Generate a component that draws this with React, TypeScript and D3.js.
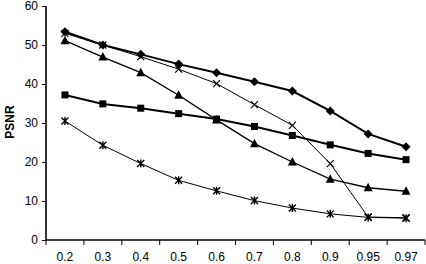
import { useEffect, useRef } from 'react';
import * as d3 from 'd3';

// 압축률 카테고리
const categories = ['0.2', '0.3', '0.4', '0.5', '0.6', '0.7', '0.8', '0.9', '0.95', '0.97'];
const yTicks = [0, 10, 20, 30, 40, 50, 60];

const diamondSeries = [53.4, 50, 47.6, 45.1, 42.9, 40.6, 38.2, 33.1, 27.2, 23.9];
const crossSeries = [53, 50, 47, 43.8, 40.1, 34.7, 29.4, 19.6, 5.9, 5.7];
const triangleSeries = [51.1, 46.9, 42.9, 37.1, 30.8, 24.7, 20, 15.6, 13.4, 12.5];
const squareSeries = [37.2, 34.9, 33.8, 32.4, 31, 29.1, 26.8, 24.4, 22.2, 20.6];
const starSeries = [30.5, 24.3, 19.6, 15.3, 12.6, 10.1, 8.2, 6.7, 5.8, 5.6];

type Marker = 'diamond' | 'cross' | 'triangle' | 'square' | 'star';

const series: { values: number[]; marker: Marker; width: number }[] = [
  { values: starSeries, marker: 'star', width: 1 },
  { values: squareSeries, marker: 'square', width: 2 },
  { values: triangleSeries, marker: 'triangle', width: 1.3 },
  { values: crossSeries, marker: 'cross', width: 1 },
  { values: diamondSeries, marker: 'diamond', width: 2 },
];

const W = 426;
const H = 264;

export default function App() {
  const svgRef = useRef<SVGSVGElement>(null);

  useEffect(() => {
    if (!svgRef.current) return;
    const svg = d3.select(svgRef.current);
    svg.selectAll('*').remove();

    const x = d3.scaleBand<string>().domain(categories).range([46, 425]).padding(0);
    const y = d3.scaleLinear().domain([0, 60]).range([240, 6]);
    const cx = (i: number) => (x(categories[i]) ?? 0) + x.bandwidth() / 2;

    // ── 선 ──
    const line = d3.line<number>()
      .x((_, i) => cx(i))
      .y((d) => y(d));

    series.forEach((s) => {
      svg.append('path')
        .datum(s.values)
        .attr('d', line)
        .attr('fill', 'none')
        .attr('stroke', '#000')
        .attr('stroke-width', s.width);
    });

    // ── 마커 ──
    series.forEach((s) => {
      const g = svg.append('g');
      s.values.forEach((v, i) => {
        const px = cx(i);
        const py = y(v);
        if (s.marker === 'diamond') {
          g.append('path').attr('d', `M${px},${py - 4.5}L${px + 4.5},${py}L${px},${py + 4.5}L${px - 4.5},${py}Z`).attr('fill', '#000');
        } else if (s.marker === 'square') {
          g.append('rect').attr('x', px - 3.5).attr('y', py - 3.5).attr('width', 7).attr('height', 7).attr('fill', '#000');
        } else if (s.marker === 'triangle') {
          g.append('path').attr('d', `M${px},${py - 5}L${px + 4.5},${py + 3.5}L${px - 4.5},${py + 3.5}Z`).attr('fill', '#000');
        } else if (s.marker === 'cross') {
          g.append('path').attr('d', `M${px - 3.5},${py - 3.5}L${px + 3.5},${py + 3.5}M${px + 3.5},${py - 3.5}L${px - 3.5},${py + 3.5}`)
            .attr('stroke', '#000').attr('stroke-width', 1.2);
        } else {
          g.append('path').attr('d', `M${px - 3.5},${py - 3.5}L${px + 3.5},${py + 3.5}M${px + 3.5},${py - 3.5}L${px - 3.5},${py + 3.5}M${px},${py - 4}L${px},${py + 4}`)
            .attr('stroke', '#000').attr('stroke-width', 1.4);
        }
      });
    });

    // ── 축 ──
    const yAxis = svg.append('g')
      .attr('transform', 'translate(46,0)')
      .call(d3.axisLeft(y).tickValues(yTicks).tickSize(4).tickPadding(4));

    const xAxis = svg.append('g')
      .attr('transform', 'translate(0,240)')
      .call(d3.axisBottom(x).tickSize(0).tickPadding(12));

    // 구간 경계 눈금 (카테고리 사이)
    xAxis.selectAll('.tick').each(function () {
      d3.select(this).append('line')
        .attr('x1', x.bandwidth() / 2).attr('x2', x.bandwidth() / 2)
        .attr('y1', 0).attr('y2', 5)
        .attr('stroke', '#000');
    });
    xAxis.append('line').attr('x1', 46).attr('x2', 46).attr('y1', 0).attr('y2', 5).attr('stroke', '#000');

    svg.selectAll('.domain').attr('stroke', '#000').attr('stroke-width', 1.6);
    yAxis.select('.domain').attr('d', 'M0,240V6');
    xAxis.select('.domain').attr('d', 'M46,0H425');
    svg.selectAll('.tick text')
      .attr('fill', '#000')
      .attr('font-family', 'Liberation Sans, Arial, sans-serif')
      .attr('font-size', '12px');

    // Y축 라벨
    svg.append('text')
      .attr('transform', 'rotate(-90)')
      .attr('x', -122)
      .attr('y', 14)
      .attr('text-anchor', 'middle')
      .attr('font-family', 'Liberation Sans, Arial, sans-serif')
      .attr('font-weight', 'bold')
      .attr('font-size', '12px')
      .text('PSNR');
  }, []);

  return (
    <svg
      ref={svgRef}
      width={W}
      height={H}
      style={{ position: 'absolute', left: 0, top: 0, background: '#fff' }}
    />
  );
}
